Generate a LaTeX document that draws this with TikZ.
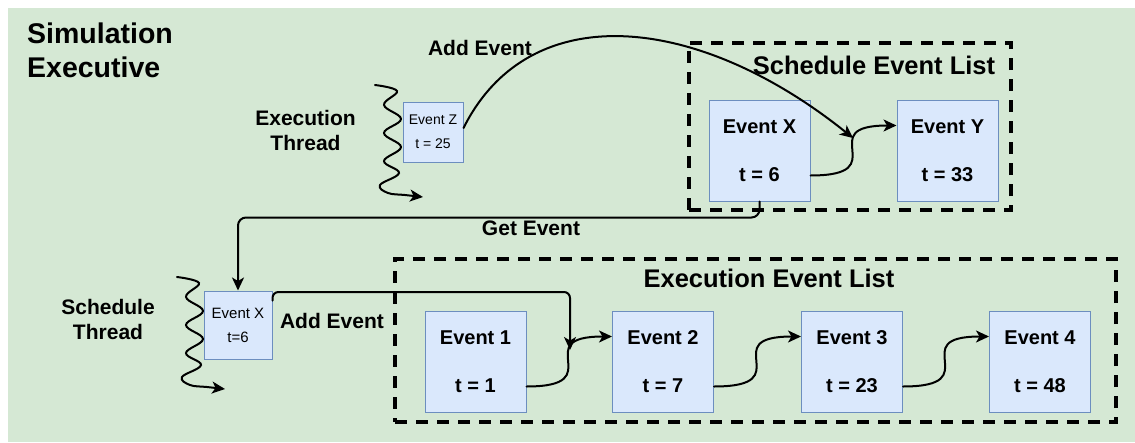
\documentclass[tikz,border=0pt]{standalone}
\usepackage{fontspec}
\setmainfont{Liberation Sans}
\usetikzlibrary{arrows.meta,calc}
\definecolor{bggreen}{HTML}{D5E8D4}
\definecolor{evfill}{HTML}{DAE8FC}
\definecolor{evline}{HTML}{6C8EBF}

\tikzset{
  evbox/.style={draw=evline, fill=evfill, line width=1pt, inner sep=0pt,
    minimum width=101pt, minimum height=101pt, align=center,
    font=\bfseries\fontsize{20}{48}\selectfont},
  smallev/.style={draw=evline, fill=evfill, line width=1pt, inner sep=0pt,
    align=center},
  listframe/.style={draw, line width=3.5pt, dash pattern=on 12pt off 9pt,
    inner sep=0pt},
  conn/.style={draw, line width=2pt, line cap=round,
    -{Stealth[length=13pt,width=12pt,inset=3.5pt]}},
  lbl/.style={font=\bfseries\fontsize{21}{25}\selectfont, align=center,
    inner sep=0pt},
  listtitle/.style={font=\bfseries\fontsize{25.5}{30}\selectfont,
    inner sep=0pt},
  % S-shaped link: leaves horizontally, vertical halfway, enters horizontally
  scurve/.style={to path={let \p1=(\tikztostart), \p2=(\tikztotarget) in
    .. controls (\x2,\y1) and (\x1,\y2) .. (\p2) \tikztonodes}},
  threadwave/.pic={
    \draw[conn] plot[smooth, tension=0.65] coordinates {
      (0,0) (22,6) (9,20) (26,34) (9,48) (26,62) (9,76) (24,88)
      (5,100) (13,108) (30,110) (48,112)};
  }
}

\begin{document}
\begin{tikzpicture}[x=1pt,y=-1pt]
\useasboundingbox (0,0) rectangle (1135,442);
\fill[white] (0,0) rectangle (1135,442);
\fill[bggreen] (8,8) rectangle (1135,442);

% title
\node[anchor=west, align=left, inner sep=0pt,
      font=\bfseries\fontsize{28.5}{34}\selectfont] (title) at (27,50)
      {Simulation\\Executive};

% list frames
\node[listframe, minimum width=322pt, minimum height=167pt] (schedlist) at (850,126.5) {};
\node[listtitle] (schedtitle) at (874,65) {Schedule Event List};
\node[listframe, minimum width=721pt, minimum height=163pt] (execlist) at (755.5,340.5) {};
\node[listtitle] (exectitle) at (769,278) {Execution Event List};

% threads
\node[lbl] (exthread) at (305.5,130.5) {Execution\\Thread};
\node[lbl] (scthread) at (108,319.5) {Schedule\\Thread};
\pic (wave1) at (375,85) {threadwave};
\pic (wave2) at (177,277) {threadwave};

% events
\node[smallev, minimum width=60pt, minimum height=60pt,
      font=\fontsize{14}{24}\selectfont] (evz) at (433,132) {Event Z\\t = 25};
\node[smallev, minimum width=68pt, minimum height=68pt,
      font=\fontsize{15}{24}\selectfont] (evxs) at (238,325) {Event X\\t=6};

\node[evbox] (evx) at (759.5,150.5) {Event X\\t = 6};
\node[evbox] (evy) at (947.5,150.5) {Event Y\\t = 33};

\node[evbox] (ev1) at (475.5,361.5) {Event 1\\t = 1};
\node[evbox] (ev2) at (663,361.5) {Event 2\\t = 7};
\node[evbox] (ev3) at (852,361.5) {Event 3\\t = 23};
\node[evbox] (ev4) at (1040,361.5) {Event 4\\t = 48};

% insertion points on the list links
\coordinate (insX) at (853,138);
\coordinate (insL) at (570,350);

% list links
\draw[conn] ($(evx.east)+(0,25)$) to[scurve] ($(evy.west)+(0,-25)$);
\draw[conn] ($(ev1.east)+(0,25)$) to[scurve] ($(ev2.west)+(0,-25)$);
\draw[conn] ($(ev2.east)+(0,25)$) to[scurve] ($(ev3.west)+(0,-25)$);
\draw[conn] ($(ev3.east)+(0,25)$) to[scurve] ($(ev4.west)+(0,-25)$);

% add / get operations
\draw[conn] ($(evz.east)+(0,-4)$) .. controls (530,-5) and (700,15) .. (insX);
\node[lbl] (addtop) at (480,48) {Add Event};

\draw[conn, rounded corners=8pt] (evx.south) -- ++(0,16) -| (evxs.north);
\node[lbl] (getlbl) at (531,228) {Get Event};

\draw[conn, rounded corners=6pt] ($(evxs.north east)+(0,10)$) |- ($(insL)+(0,-58)$) -- (insL);
\node[lbl] (addlow) at (332,321) {Add Event};
\end{tikzpicture}
\end{document}
